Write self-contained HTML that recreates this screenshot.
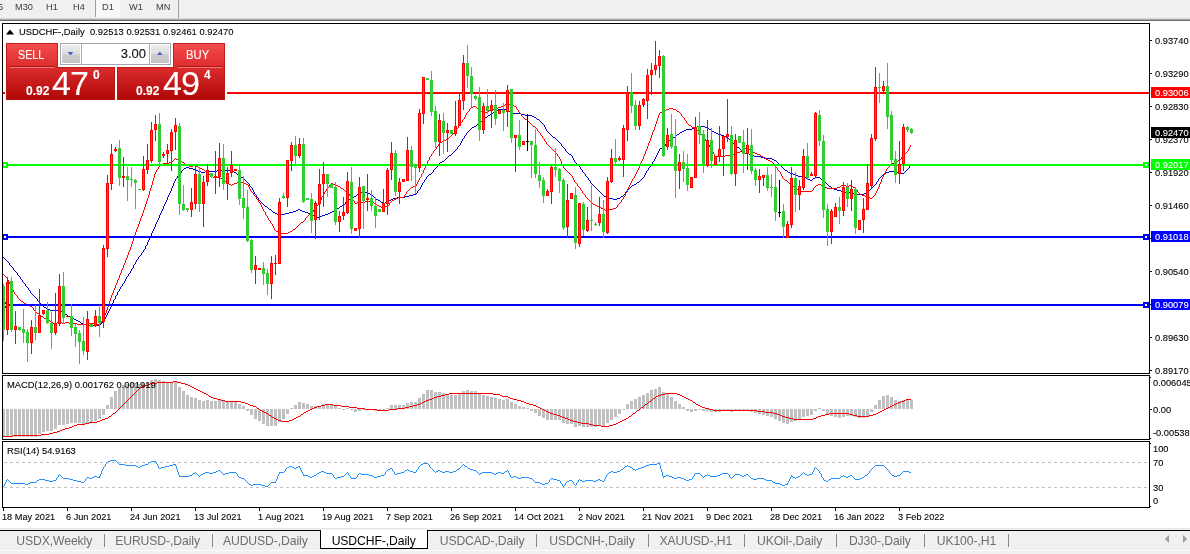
<!DOCTYPE html>
<html lang="en"><head><meta charset="utf-8"><title>USDCHF-,Daily</title>
<style>
html,body{margin:0;padding:0;background:#fff}
body{width:1190px;height:554px;overflow:hidden;position:relative;font-family:"Liberation Sans",sans-serif;color:#000}
.t,.ax{-webkit-text-stroke:0.1px currentColor}
#g{position:absolute;left:0;top:0}
.t{position:absolute;white-space:nowrap;line-height:1;font-size:9.9px;transform:scaleX(0.95);transform-origin:0 0}
.ax{position:absolute;white-space:nowrap;line-height:11px;height:11px;font-size:9.9px;left:1155px}
.ax span{display:inline-block;transform:translateY(-0.5px) scaleX(0.94);transform-origin:0 50%}
.box{left:1151px;width:39px;padding-left:4px;box-sizing:border-box;color:#fff}
.p{transform:none !important}
.tb{position:absolute;top:2px;font-size:9.2px;color:#3a3a3a;line-height:11px;white-space:nowrap}
.tab{position:absolute;top:534px;width:120px;text-align:center;font-size:12.2px;line-height:15px;color:#6d6d6d;white-space:nowrap;letter-spacing:-0.1px}
.sep{position:absolute;top:534px;width:1px;height:13px;background:#8a8a8a}
</style></head><body>
<svg id="g" width="1190" height="554" viewBox="0 0 1190 554" shape-rendering="crispEdges">
<defs><linearGradient id="rg" x1="0" y1="0" x2="0" y2="1"><stop offset="0" stop-color="#f64b4b"/><stop offset="0.45" stop-color="#d92a2a"/><stop offset="1" stop-color="#b30909"/></linearGradient><linearGradient id="bt" x1="0" y1="0" x2="0" y2="1"><stop offset="0" stop-color="#ececec"/><stop offset="0.5" stop-color="#dcdcdc"/><stop offset="0.5" stop-color="#cfcfcf"/><stop offset="1" stop-color="#c4c4c4"/></linearGradient></defs>
<rect x="0" y="0" width="1190" height="18" fill="#f0f0f0"/>
<rect x="0" y="18" width="1190" height="1" fill="#d9d9d9"/>
<rect x="0" y="19" width="1190" height="1" fill="#a6a6a6"/>
<rect x="0" y="20" width="1190" height="1" fill="#6f6f6f"/>
<rect x="96" y="0" width="24" height="17" fill="#f8f8f8"/>
<rect x="95" y="0" width="1" height="17" fill="#a0a0a0"/>
<rect x="178" y="0" width="1" height="18" fill="#a0a0a0"/>
<rect x="0" y="528" width="1190" height="1" fill="#e6e6e6"/>
<rect x="0" y="529" width="1190" height="1" fill="#f4f4f4"/>
<rect x="0" y="530" width="1190" height="1" fill="#000"/>
<rect x="0" y="531" width="1190" height="19" fill="#f0f0f0"/>
<rect x="0" y="550" width="1190" height="1" fill="#fdfdfd"/>
<rect x="0" y="551" width="1190" height="3" fill="#f0f0f0"/>
<rect x="320" y="530" width="108" height="19" fill="#000"/>
<rect x="321" y="530" width="106" height="18" fill="#fff"/>
<path d="M1165 539l4 -4v8z" fill="#9a9a9a" shape-rendering="auto"/><path d="M1187 539l-4 -4v8z" fill="#9a9a9a" shape-rendering="auto"/>
<path d="M2.5 23.5H1149.5V373.5H2.5zM2.5 375.5H1149.5V439.5H2.5zM2.5 441.5H1149.5V507.5H2.5z" stroke="#000" fill="none"/>
<path d="M1150 40.5h2M1150 73.5h2M1150 106.5h2M1150 139.5h2M1150 172.5h2M1150 205.5h2M1150 238.5h2M1150 271.5h2M1150 304.5h2M1150 337.5h2M1150 370.5h2M1150 377.5h1M1150 409.5h2M1150 438.5h1M1150 443.5h1M1150 506.5h1M3.5 508v3M67.5 508v3M131.5 508v3M195.5 508v3M259.5 508v3M323.5 508v3M387.5 508v3M451.5 508v3M515.5 508v3M579.5 508v3M643.5 508v3M707.5 508v3M771.5 508v3M835.5 508v3M899.5 508v3" stroke="#000" fill="none"/>
<path d="M4 462.5H1149M4 487.5H1149" stroke="#c0c0c0" stroke-dasharray="3 3" fill="none"/>
<clipPath id="cm"><rect x="3" y="24" width="1146" height="349"/></clipPath>
<g clip-path="url(#cm)">
<path d="M409 195h4v1h-4zM498 109h10v1h-10zM381 202h2v1h-2zM385 202h3v1h-3zM350 198h2v1h-2zM393 198h4v1h-4zM609 198h4v1h-4zM617 198h3v1h-3zM186 167h3v1h-3zM196 170h2v1h-2zM217 170h15v1h-15zM785 170h2v1h-2zM201 172h4v1h-4zM234 172h2v1h-2zM788 172h2v1h-2zM886 172h3v1h-3zM896 172h2v1h-2zM509 111h2v1h-2zM488 115h2v1h-2zM525 115h7v1h-7zM721 135h3v1h-3zM275 213h2v1h-2zM285 213h4v1h-4zM308 213h2v1h-2zM328 213h2v1h-2zM198 171h3v1h-3zM205 171h12v1h-12zM232 171h2v1h-2zM889 171h7v1h-7zM680 132h2v1h-2zM714 132h2v1h-2zM790 173h3v1h-3zM884 173h2v1h-2zM898 173h6v1h-6zM60 311h2v1h-2zM368 193h2v1h-2zM852 193h2v1h-2zM864 193h2v1h-2zM765 158h7v1h-7zM314 216h3v1h-3zM320 216h2v1h-2zM237 174h2v1h-2zM429 174h2v1h-2zM793 174h3v1h-3zM493 112h2v1h-2zM511 112h2v1h-2zM761 157h4v1h-4zM798 176h6v1h-6zM474 126h2v1h-2zM697 126h8v1h-8zM669 140h2v1h-2zM184 168h2v1h-2zM189 168h4v1h-4zM442 161h2v1h-2zM273 212h2v1h-2zM289 212h4v1h-4zM305 212h3v1h-3zM330 212h2v1h-2zM241 177h2v1h-2zM804 177h2v1h-2zM815 177h5v1h-5zM808 179h2v1h-2zM821 179h2v1h-2zM810 180h2v1h-2zM637 182h2v1h-2zM677 134h2v1h-2zM718 134h3v1h-3zM632 185h2v1h-2zM62 312h2v1h-2zM359 192h9v1h-9zM845 192h7v1h-7zM866 192h2v1h-2zM277 214h8v1h-8zM310 214h2v1h-2zM325 214h3v1h-3zM370 194h2v1h-2zM413 194h3v1h-3zM854 194h10v1h-10zM532 116h2v1h-2zM348 199h2v1h-2zM376 199h2v1h-2zM391 199h2v1h-2zM613 199h4v1h-4zM44 307h2v1h-2zM193 169h3v1h-3zM354 196h2v1h-2zM405 196h4v1h-4zM604 196h2v1h-2zM621 196h2v1h-2zM513 113h8v1h-8zM834 189h3v1h-3zM46 308h2v1h-2zM50 310h10v1h-10zM293 211h3v1h-3zM302 211h3v1h-3zM332 211h2v1h-2zM832 188h2v1h-2zM352 197h2v1h-2zM397 197h8v1h-8zM606 197h3v1h-3zM485 117h2v1h-2zM534 117h2v1h-2zM48 309h2v1h-2zM569 154h2v1h-2zM749 154h3v1h-3zM829 186h2v1h-2zM754 156h7v1h-7zM490 114h2v1h-2zM521 114h4v1h-4zM296 210h2v1h-2zM300 210h2v1h-2zM334 210h2v1h-2zM692 128h2v1h-2zM88 325h2v1h-2zM93 325h7v1h-7zM342 205h2v1h-2zM806 178h2v1h-2zM813 178h2v1h-2zM837 190h4v1h-4zM83 324h5v1h-5zM743 153h6v1h-6zM686 129h6v1h-6zM709 129h2v1h-2zM440 162h2v1h-2zM660 148h2v1h-2zM378 200h2v1h-2zM389 200h2v1h-2zM312 215h2v1h-2zM322 215h3v1h-3zM269 209h2v1h-2zM298 209h2v1h-2zM796 175h2v1h-2zM472 127h2v1h-2zM694 127h3v1h-3zM705 127h3v1h-3zM841 191h4v1h-4zM449 155h2v1h-2zM752 155h2v1h-2zM81 323h2v1h-2zM724 136h2v1h-2zM76 320h2v1h-2zM662 147h2v1h-2zM737 147h2v1h-2zM682 131h2v1h-2zM712 131h2v1h-2zM716 133h2v1h-2zM337 208h2v1h-2zM317 217h3v1h-3zM383 203h2v1h-2zM634 184h2v1h-2zM684 130h2v1h-2zM477 124h2v1h-2zM265 206h2v1h-2zM340 206h2v1h-2zM772 159h2v1h-2zM553 137h2v1h-2zM673 137h2v1h-2zM726 137h2v1h-2zM68 316h2v1h-2zM65 314h2v1h-2zM496 110h2v1h-2zM90 326h3v1h-3zM537 119h2v1h-2zM774 160h2v1h-2zM72 318h2v1h-2zM70 317h2v1h-2zM78 321h2v1h-2zM74 319h2v1h-2zM13 268h1v2h-1zM132 268h1v1h-1zM454 151h1v1h-1zM566 151h1v1h-1zM658 151h1v2h-1zM741 150h1v2h-1zM26 286h1v1h-1zM121 286h1v1h-1zM168 195h1v2h-1zM256 195h1v2h-1zM356 195h1v1h-1zM372 195h1v1h-1zM603 195h1v1h-1zM623 195h1v1h-1zM67 315h1v1h-1zM106 315h1v2h-1zM172 186h1v2h-1zM251 187h1v1h-1zM420 187h1v2h-1zM595 187h1v1h-1zM630 187h1v1h-1zM831 187h1v1h-1zM872 187h1v1h-1zM165 202h1v2h-1zM261 202h1v1h-1zM345 202h1v2h-1zM167 197h1v3h-1zM258 198h1v2h-1zM375 198h1v1h-1zM436 167h1v1h-1zM580 167h1v2h-1zM649 167h1v1h-1zM782 167h1v1h-1zM909 166h1v2h-1zM182 170h1v1h-1zM433 170h1v2h-1zM582 170h1v2h-1zM647 170h1v1h-1zM906 170h1v1h-1zM181 171h1v2h-1zM432 172h1v1h-1zM583 172h1v1h-1zM646 171h1v2h-1zM904 172h1v1h-1zM37 299h1v2h-1zM113 300h1v3h-1zM495 111h1v1h-1zM465 135h1v1h-1zM551 135h1v1h-1zM676 135h1v1h-1zM160 213h1v2h-1zM787 171h1v1h-1zM905 171h1v1h-1zM467 132h1v1h-1zM548 132h1v1h-1zM180 173h1v1h-1zM236 173h1v1h-1zM431 173h1v1h-1zM584 173h1v1h-1zM645 173h1v2h-1zM108 311h1v2h-1zM4 258h1v1h-1zM138 257h1v2h-1zM18 275h1v1h-1zM128 274h1v2h-1zM169 193h1v2h-1zM254 192h1v2h-1zM358 193h1v1h-1zM416 193h1v1h-1zM601 193h1v1h-1zM625 192h1v2h-1zM446 158h1v1h-1zM573 158h1v2h-1zM655 157h1v2h-1zM31 293h1v1h-1zM117 292h1v3h-1zM159 215h1v3h-1zM456 149h1v1h-1zM565 149h1v2h-1zM659 149h1v2h-1zM740 149h1v1h-1zM179 174h1v1h-1zM585 174h1v2h-1zM883 174h1v1h-1zM152 231h1v2h-1zM447 157h1v1h-1zM572 156h1v2h-1zM177 176h1v2h-1zM240 176h1v1h-1zM427 176h1v1h-1zM586 176h1v1h-1zM644 175h1v2h-1zM881 176h1v1h-1zM482 120h1v1h-1zM539 120h1v1h-1zM166 200h1v2h-1zM260 201h1v1h-1zM346 201h1v1h-1zM380 201h1v1h-1zM388 201h1v1h-1zM544 125h1v2h-1zM462 139h1v2h-1zM557 140h1v1h-1zM730 140h1v1h-1zM460 143h1v2h-1zM560 143h1v1h-1zM666 143h1v1h-1zM733 143h1v1h-1zM435 168h1v1h-1zM648 168h1v2h-1zM783 168h1v1h-1zM908 168h1v1h-1zM574 160h1v2h-1zM653 161h1v1h-1zM776 161h1v1h-1zM161 211h1v2h-1zM426 177h1v2h-1zM587 177h1v1h-1zM643 177h1v1h-1zM880 177h1v1h-1zM145 246h1v3h-1zM175 179h1v2h-1zM244 179h1v1h-1zM425 179h1v1h-1zM588 178h1v2h-1zM641 179h1v1h-1zM812 179h1v1h-1zM878 179h1v2h-1zM245 180h1v1h-1zM424 180h1v2h-1zM589 180h1v1h-1zM640 180h1v1h-1zM823 180h1v1h-1zM157 220h1v2h-1zM174 181h1v2h-1zM247 182h1v1h-1zM423 182h1v1h-1zM590 181h1v2h-1zM825 182h1v1h-1zM876 182h1v2h-1zM466 133h1v2h-1zM550 134h1v1h-1zM173 183h1v3h-1zM249 184h1v2h-1zM421 185h1v2h-1zM593 185h1v1h-1zM828 185h1v1h-1zM874 185h1v1h-1zM23 282h1v1h-1zM124 281h1v2h-1zM170 191h1v2h-1zM417 191h1v2h-1zM600 192h1v1h-1zM255 194h1v1h-1zM357 194h1v1h-1zM602 194h1v1h-1zM624 194h1v1h-1zM487 116h1v1h-1zM25 284h1v2h-1zM122 284h1v2h-1zM248 183h1v1h-1zM422 183h1v2h-1zM591 183h1v1h-1zM636 183h1v1h-1zM826 183h1v1h-1zM3 257h1v1h-1zM110 307h1v2h-1zM183 169h1v1h-1zM434 169h1v1h-1zM581 169h1v1h-1zM784 169h1v1h-1zM907 169h1v1h-1zM373 196h1v1h-1zM492 113h1v1h-1zM141 253h1v2h-1zM171 188h1v3h-1zM252 188h1v2h-1zM419 189h1v1h-1zM597 189h1v1h-1zM628 189h1v1h-1zM870 189h1v1h-1zM109 309h1v2h-1zM272 211h1v1h-1zM484 118h1v1h-1zM536 118h1v1h-1zM596 188h1v1h-1zM629 188h1v1h-1zM871 188h1v1h-1zM257 197h1v1h-1zM374 197h1v1h-1zM620 197h1v1h-1zM40 303h1v1h-1zM112 303h1v1h-1zM451 154h1v1h-1zM657 153h1v2h-1zM250 186h1v1h-1zM594 186h1v1h-1zM631 186h1v1h-1zM873 186h1v1h-1zM448 156h1v1h-1zM656 155h1v2h-1zM6 260h1v1h-1zM136 260h1v2h-1zM439 163h1v1h-1zM576 163h1v1h-1zM652 162h1v2h-1zM778 163h1v1h-1zM139 256h1v1h-1zM162 209h1v2h-1zM271 210h1v1h-1zM459 145h1v1h-1zM561 144h1v2h-1zM665 144h1v2h-1zM735 145h1v1h-1zM479 123h1v1h-1zM542 123h1v1h-1zM17 273h1v2h-1zM471 128h1v1h-1zM545 127h1v2h-1zM708 128h1v1h-1zM14 270h1v1h-1zM131 269h1v2h-1zM43 306h1v1h-1zM111 304h1v3h-1zM30 291h1v2h-1zM28 288h1v2h-1zM120 287h1v2h-1zM164 204h1v2h-1zM264 205h1v1h-1zM176 178h1v1h-1zM243 178h1v1h-1zM642 178h1v1h-1zM820 178h1v1h-1zM879 178h1v1h-1zM253 190h1v2h-1zM418 190h1v1h-1zM598 190h1v1h-1zM627 190h1v1h-1zM869 190h1v1h-1zM463 138h1v1h-1zM555 138h1v1h-1zM672 138h1v1h-1zM728 138h1v1h-1zM100 324h1v1h-1zM9 263h1v2h-1zM135 262h1v2h-1zM452 153h1v1h-1zM568 153h1v1h-1zM458 146h1v1h-1zM562 146h1v1h-1zM664 146h1v1h-1zM736 146h1v1h-1zM461 141h1v2h-1zM559 142h1v1h-1zM667 142h1v1h-1zM732 142h1v1h-1zM22 280h1v2h-1zM470 129h1v1h-1zM546 129h1v2h-1zM33 295h1v1h-1zM116 295h1v1h-1zM151 233h1v3h-1zM575 162h1v1h-1zM777 162h1v1h-1zM457 147h1v2h-1zM564 148h1v1h-1zM739 148h1v1h-1zM35 297h1v1h-1zM115 296h1v3h-1zM64 313h1v1h-1zM107 313h1v2h-1zM259 200h1v1h-1zM347 200h1v1h-1zM336 209h1v1h-1zM36 298h1v1h-1zM144 249h1v1h-1zM178 175h1v1h-1zM239 175h1v1h-1zM428 175h1v1h-1zM882 175h1v1h-1zM156 222h1v2h-1zM599 191h1v1h-1zM626 191h1v1h-1zM868 191h1v1h-1zM80 322h1v1h-1zM102 322h1v1h-1zM571 155h1v1h-1zM101 323h1v1h-1zM24 283h1v1h-1zM123 283h1v1h-1zM437 165h1v2h-1zM578 165h1v1h-1zM650 165h1v2h-1zM780 165h1v1h-1zM910 165h1v1h-1zM464 136h1v2h-1zM552 136h1v1h-1zM675 136h1v1h-1zM263 204h1v1h-1zM344 204h1v1h-1zM104 319h1v2h-1zM556 139h1v1h-1zM671 139h1v1h-1zM729 139h1v1h-1zM119 289h1v2h-1zM563 147h1v1h-1zM42 305h1v1h-1zM468 131h1v1h-1zM547 131h1v1h-1zM549 133h1v1h-1zM679 133h1v1h-1zM8 262h1v1h-1zM19 276h1v1h-1zM127 276h1v1h-1zM163 206h1v3h-1zM268 208h1v1h-1zM262 203h1v1h-1zM592 184h1v1h-1zM827 184h1v1h-1zM875 184h1v1h-1zM469 130h1v1h-1zM711 130h1v1h-1zM543 124h1v1h-1zM445 159h1v1h-1zM654 159h1v2h-1zM481 121h1v1h-1zM540 121h1v1h-1zM5 259h1v1h-1zM137 259h1v1h-1zM29 290h1v1h-1zM158 218h1v2h-1zM41 304h1v1h-1zM147 242h1v3h-1zM39 302h1v1h-1zM267 207h1v1h-1zM339 207h1v1h-1zM480 122h1v1h-1zM541 122h1v1h-1zM150 236h1v2h-1zM438 164h1v1h-1zM577 164h1v1h-1zM651 164h1v1h-1zM779 164h1v1h-1zM246 181h1v1h-1zM639 181h1v1h-1zM824 181h1v1h-1zM877 181h1v1h-1zM734 144h1v1h-1zM455 150h1v1h-1zM155 224h1v3h-1zM453 152h1v1h-1zM567 152h1v1h-1zM742 152h1v1h-1zM508 110h1v1h-1zM27 287h1v1h-1zM143 250h1v2h-1zM16 272h1v1h-1zM130 271h1v2h-1zM483 119h1v1h-1zM38 301h1v1h-1zM444 160h1v1h-1zM20 277h1v2h-1zM126 277h1v2h-1zM134 264h1v1h-1zM118 291h1v1h-1zM149 238h1v2h-1zM114 299h1v1h-1zM105 317h1v2h-1zM15 271h1v1h-1zM154 227h1v2h-1zM558 141h1v1h-1zM668 141h1v1h-1zM731 141h1v1h-1zM476 125h1v1h-1zM579 166h1v1h-1zM781 166h1v1h-1zM12 267h1v1h-1zM133 265h1v3h-1zM7 261h1v1h-1zM103 321h1v1h-1zM11 266h1v1h-1zM148 240h1v2h-1zM140 255h1v1h-1zM129 273h1v1h-1zM34 296h1v1h-1zM32 294h1v1h-1zM10 265h1v1h-1zM21 279h1v1h-1zM125 279h1v2h-1zM153 229h1v2h-1zM146 245h1v1h-1zM142 252h1v1h-1z" fill="#0000cd"/>
<path d="M715 156h10v1h-10zM761 156h2v1h-2zM229 184h2v1h-2zM232 184h2v1h-2zM246 184h2v1h-2zM333 184h3v1h-3zM818 184h3v1h-3zM163 163h6v1h-6zM892 163h2v1h-2zM491 109h5v1h-5zM666 109h3v1h-3zM673 109h3v1h-3zM234 183h3v1h-3zM244 183h2v1h-2zM331 183h2v1h-2zM789 183h2v1h-2zM744 148h2v1h-2zM77 324h12v1h-12zM97 324h3v1h-3zM377 205h2v1h-2zM595 205h2v1h-2zM176 159h2v1h-2zM766 159h2v1h-2zM237 182h7v1h-7zM694 128h2v1h-2zM734 153h3v1h-3zM755 153h2v1h-2zM396 198h2v1h-2zM870 198h2v1h-2zM222 179h2v1h-2zM593 204h2v1h-2zM860 194h2v1h-2zM737 152h3v1h-3zM753 152h2v1h-2zM411 187h2v1h-2zM825 187h2v1h-2zM837 187h3v1h-3zM853 187h2v1h-2zM796 189h2v1h-2zM189 166h4v1h-4zM196 166h2v1h-2zM862 195h3v1h-3zM379 206h2v1h-2zM385 206h3v1h-3zM597 206h3v1h-3zM336 185h2v1h-2zM816 185h2v1h-2zM821 185h3v1h-3zM841 185h2v1h-2zM844 185h2v1h-2zM849 185h3v1h-3zM30 306h2v1h-2zM865 196h3v1h-3zM482 112h6v1h-6zM660 112h2v1h-2zM180 161h2v1h-2zM770 161h2v1h-2zM896 161h2v1h-2zM394 199h2v1h-2zM605 210h4v1h-4zM345 191h2v1h-2zM801 191h11v1h-11zM281 233h7v1h-7zM505 104h2v1h-2zM509 104h3v1h-3zM200 168h2v1h-2zM398 197h6v1h-6zM868 197h2v1h-2zM725 155h7v1h-7zM213 177h7v1h-7zM357 202h8v1h-8zM372 202h2v1h-2zM211 176h2v1h-2zM220 178h2v1h-2zM341 188h2v1h-2zM827 188h10v1h-10zM489 110h2v1h-2zM664 110h2v1h-2zM689 125h2v1h-2zM601 208h2v1h-2zM613 208h3v1h-3zM338 186h2v1h-2zM413 186h3v1h-3zM846 186h3v1h-3zM309 214h2v1h-2zM692 127h2v1h-2zM276 231h2v1h-2zM290 231h2v1h-2zM24 303h2v1h-2zM471 107h2v1h-2zM498 107h3v1h-3zM496 108h2v1h-2zM669 108h4v1h-4zM57 322h2v1h-2zM60 322h2v1h-2zM65 322h4v1h-4zM198 167h2v1h-2zM278 232h3v1h-3zM288 232h2v1h-2zM161 164h2v1h-2zM185 164h2v1h-2zM53 323h2v1h-2zM62 323h3v1h-3zM69 323h8v1h-8zM89 323h8v1h-8zM293 229h2v1h-2zM365 201h7v1h-7zM355 203h2v1h-2zM374 203h2v1h-2zM785 180h2v1h-2zM28 305h2v1h-2zM21 301h2v1h-2zM732 154h2v1h-2zM757 154h3v1h-3zM746 147h2v1h-2zM178 160h2v1h-2zM768 160h2v1h-2zM898 160h2v1h-2zM202 169h2v1h-2zM392 200h2v1h-2zM381 207h4v1h-4zM225 181h2v1h-2zM697 130h2v1h-2zM440 142h2v1h-2zM446 139h2v1h-2zM749 149h2v1h-2zM798 190h3v1h-3zM473 106h3v1h-3zM501 106h3v1h-3zM514 106h2v1h-2zM741 150h2v1h-2zM187 165h2v1h-2zM193 165h3v1h-3zM169 162h3v1h-3zM182 162h2v1h-2zM894 162h2v1h-2zM41 316h2v1h-2zM525 119h2v1h-2zM301 222h2v1h-2zM442 141h2v1h-2zM205 171h2v1h-2zM603 209h2v1h-2zM609 209h4v1h-4zM512 105h2v1h-2zM507 103h2v1h-2zM46 319h2v1h-2zM48 320h2v1h-2zM480 111h2v1h-2zM662 111h2v1h-2zM677 111h2v1h-2zM50 321h2v1h-2zM533 126h2v1h-2zM764 158h2v1h-2zM44 318h2v1h-2zM26 304h2v1h-2zM444 140h2v1h-2zM37 313h2v1h-2zM430 156h1v1h-1zM558 156h1v1h-1zM643 156h1v3h-1zM902 156h1v1h-1zM152 181h1v4h-1zM330 184h1v1h-1zM416 184h1v2h-1zM577 184h1v2h-1zM630 183h1v2h-1zM791 184h1v1h-1zM843 184h1v1h-1zM879 184h1v3h-1zM453 133h1v1h-1zM540 133h1v2h-1zM652 132h1v3h-1zM700 132h1v2h-1zM184 163h1v1h-1zM427 161h1v3h-1zM561 161h1v3h-1zM640 163h1v2h-1zM773 163h1v2h-1zM469 109h1v2h-1zM478 109h1v1h-1zM517 109h1v1h-1zM228 183h1v1h-1zM417 182h1v2h-1zM576 183h1v1h-1zM880 182h1v2h-1zM436 147h1v2h-1zM551 148h1v1h-1zM647 146h1v3h-1zM710 147h1v2h-1zM748 148h1v1h-1zM909 147h1v2h-1zM55 324h1v1h-1zM13 290h1v2h-1zM113 290h1v3h-1zM145 204h1v3h-1zM261 205h1v2h-1zM317 205h1v1h-1zM388 205h1v1h-1zM617 205h1v2h-1zM174 159h1v1h-1zM429 157h1v3h-1zM560 159h1v2h-1zM642 159h1v2h-1zM900 159h1v1h-1zM227 182h1v1h-1zM575 182h1v1h-1zM631 181h1v2h-1zM788 182h1v1h-1zM457 128h1v1h-1zM536 128h1v1h-1zM654 127h1v3h-1zM432 153h1v1h-1zM556 153h1v1h-1zM645 151h1v3h-1zM713 152h1v2h-1zM905 153h1v1h-1zM147 198h1v3h-1zM256 197h1v2h-1zM321 197h1v3h-1zM352 198h1v2h-1zM587 198h1v1h-1zM623 197h1v2h-1zM153 178h1v3h-1zM419 178h1v2h-1zM573 178h1v2h-1zM632 179h1v2h-1zM784 179h1v1h-1zM881 179h1v3h-1zM260 203h1v2h-1zM318 203h1v2h-1zM376 204h1v1h-1zM389 203h1v2h-1zM618 204h1v1h-1zM149 191h1v4h-1zM253 193h1v2h-1zM323 194h1v2h-1zM349 194h1v2h-1zM405 194h1v1h-1zM584 194h1v1h-1zM625 193h1v3h-1zM875 193h1v2h-1zM433 151h1v2h-1zM555 152h1v1h-1zM906 152h1v1h-1zM456 129h1v2h-1zM537 129h1v2h-1zM696 129h1v1h-1zM151 185h1v3h-1zM249 187h1v2h-1zM328 187h1v1h-1zM340 187h1v1h-1zM579 187h1v1h-1zM628 187h1v2h-1zM794 187h1v1h-1zM814 187h1v1h-1zM878 187h1v2h-1zM150 188h1v3h-1zM250 189h1v2h-1zM326 189h1v2h-1zM343 189h1v1h-1zM409 189h1v1h-1zM580 188h1v2h-1zM627 189h1v3h-1zM813 188h1v2h-1zM856 189h1v1h-1zM877 189h1v2h-1zM122 268h1v2h-1zM324 192h1v2h-1zM348 193h1v1h-1zM406 192h1v2h-1zM583 193h1v1h-1zM859 193h1v1h-1zM40 315h1v1h-1zM104 315h1v3h-1zM159 166h1v1h-1zM425 166h1v2h-1zM563 166h1v2h-1zM639 165h1v3h-1zM775 166h1v1h-1zM889 166h1v1h-1zM148 195h1v3h-1zM254 195h1v1h-1zM404 195h1v2h-1zM585 195h1v2h-1zM874 195h1v1h-1zM155 172h1v2h-1zM208 173h1v1h-1zM422 173h1v1h-1zM569 173h1v1h-1zM636 172h1v2h-1zM780 172h1v2h-1zM884 173h1v2h-1zM316 206h1v2h-1zM464 117h1v2h-1zM523 117h1v1h-1zM658 115h1v3h-1zM683 117h1v1h-1zM154 174h1v4h-1zM210 175h1v1h-1zM421 174h1v3h-1zM571 175h1v1h-1zM635 174h1v2h-1zM781 174h1v2h-1zM883 175h1v2h-1zM231 185h1v1h-1zM248 185h1v2h-1zM329 185h1v2h-1zM629 185h1v2h-1zM792 185h1v1h-1zM108 304h1v3h-1zM255 196h1v1h-1zM322 196h1v1h-1zM350 196h1v1h-1zM624 196h1v1h-1zM873 196h1v1h-1zM143 210h1v3h-1zM265 212h1v3h-1zM312 212h1v1h-1zM467 112h1v1h-1zM519 112h1v1h-1zM679 112h1v1h-1zM156 170h1v2h-1zM204 170h1v1h-1zM423 170h1v3h-1zM566 170h1v1h-1zM637 170h1v2h-1zM778 170h1v1h-1zM886 169h1v2h-1zM559 157h1v2h-1zM763 157h1v1h-1zM901 157h1v2h-1zM172 161h1v1h-1zM641 161h1v2h-1zM465 115h1v2h-1zM521 114h1v2h-1zM681 114h1v2h-1zM257 199h1v1h-1zM588 199h1v1h-1zM622 199h1v1h-1zM263 209h1v2h-1zM313 210h1v2h-1zM121 270h1v3h-1zM251 191h1v1h-1zM325 191h1v1h-1zM407 191h1v1h-1zM582 191h1v2h-1zM857 190h1v2h-1zM876 191h1v2h-1zM135 232h1v3h-1zM158 167h1v2h-1zM424 168h1v2h-1zM564 168h1v1h-1zM638 168h1v2h-1zM777 168h1v2h-1zM887 168h1v1h-1zM351 197h1v1h-1zM586 197h1v1h-1zM872 197h1v1h-1zM140 218h1v3h-1zM268 218h1v2h-1zM305 218h1v2h-1zM125 260h1v3h-1zM431 154h1v2h-1zM557 154h1v2h-1zM644 154h1v2h-1zM714 154h1v2h-1zM760 155h1v1h-1zM903 155h1v1h-1zM420 177h1v1h-1zM572 176h1v2h-1zM634 176h1v2h-1zM782 176h1v2h-1zM882 177h1v2h-1zM146 201h1v3h-1zM259 202h1v1h-1zM319 201h1v2h-1zM354 201h1v2h-1zM390 202h1v1h-1zM591 202h1v1h-1zM620 202h1v1h-1zM209 174h1v1h-1zM570 174h1v1h-1zM633 178h1v1h-1zM783 178h1v1h-1zM138 224h1v3h-1zM273 226h1v2h-1zM297 226h1v1h-1zM327 188h1v1h-1zM410 188h1v1h-1zM795 188h1v1h-1zM855 188h1v1h-1zM479 110h1v1h-1zM518 110h1v2h-1zM676 110h1v1h-1zM459 125h1v1h-1zM532 125h1v1h-1zM655 124h1v3h-1zM144 207h1v3h-1zM262 207h1v2h-1zM315 208h1v1h-1zM554 151h1v1h-1zM712 150h1v2h-1zM740 151h1v1h-1zM752 151h1v1h-1zM907 151h1v1h-1zM578 186h1v1h-1zM793 186h1v1h-1zM815 186h1v1h-1zM824 186h1v1h-1zM840 186h1v1h-1zM852 186h1v1h-1zM142 213h1v3h-1zM39 314h1v1h-1zM105 313h1v2h-1zM460 123h1v2h-1zM531 124h1v1h-1zM688 124h1v1h-1zM458 126h1v2h-1zM535 127h1v1h-1zM136 229h1v3h-1zM109 301h1v3h-1zM455 131h1v1h-1zM538 131h1v1h-1zM653 130h1v2h-1zM699 131h1v1h-1zM476 107h1v1h-1zM516 107h1v2h-1zM470 108h1v1h-1zM477 108h1v1h-1zM52 322h1v1h-1zM101 321h1v2h-1zM207 172h1v1h-1zM568 172h1v1h-1zM885 171h1v2h-1zM23 302h1v1h-1zM776 167h1v1h-1zM888 167h1v1h-1zM14 292h1v2h-1zM112 293h1v2h-1zM426 164h1v2h-1zM562 164h1v2h-1zM891 164h1v1h-1zM56 323h1v1h-1zM100 323h1v1h-1zM437 146h1v1h-1zM549 146h1v1h-1zM709 145h1v2h-1zM910 145h1v2h-1zM15 294h1v1h-1zM274 228h1v2h-1zM258 200h1v2h-1zM391 201h1v1h-1zM590 201h1v1h-1zM621 200h1v2h-1zM592 203h1v1h-1zM619 203h1v1h-1zM224 180h1v1h-1zM418 180h1v2h-1zM574 180h1v2h-1zM904 154h1v1h-1zM43 317h1v1h-1zM550 147h1v1h-1zM173 160h1v1h-1zM428 160h1v1h-1zM157 169h1v1h-1zM565 169h1v1h-1zM320 200h1v1h-1zM353 200h1v1h-1zM589 200h1v1h-1zM600 207h1v1h-1zM616 207h1v1h-1zM787 181h1v1h-1zM466 113h1v2h-1zM520 113h1v1h-1zM659 113h1v2h-1zM680 113h1v1h-1zM462 120h1v2h-1zM527 120h1v1h-1zM657 118h1v3h-1zM685 120h1v1h-1zM35 311h1v1h-1zM106 310h1v3h-1zM546 142h1v2h-1zM649 141h1v2h-1zM707 142h1v1h-1zM36 312h1v1h-1zM252 192h1v1h-1zM347 192h1v1h-1zM626 192h1v1h-1zM858 192h1v1h-1zM124 263h1v2h-1zM544 139h1v2h-1zM650 138h1v3h-1zM705 139h1v2h-1zM435 149h1v1h-1zM552 149h1v1h-1zM646 149h1v2h-1zM711 149h1v1h-1zM743 149h1v1h-1zM908 149h1v2h-1zM344 190h1v1h-1zM408 190h1v1h-1zM581 190h1v1h-1zM812 190h1v1h-1zM434 150h1v1h-1zM553 150h1v1h-1zM751 150h1v1h-1zM139 221h1v3h-1zM271 223h1v1h-1zM300 223h1v1h-1zM160 165h1v1h-1zM774 165h1v1h-1zM890 165h1v1h-1zM3 274h1v1h-1zM120 273h1v2h-1zM141 216h1v2h-1zM267 216h1v2h-1zM306 217h1v1h-1zM133 238h1v3h-1zM772 162h1v1h-1zM137 227h1v2h-1zM295 228h1v1h-1zM269 220h1v1h-1zM304 220h1v1h-1zM463 119h1v1h-1zM684 118h1v2h-1zM132 241h1v3h-1zM33 308h1v2h-1zM107 307h1v3h-1zM450 136h1v1h-1zM542 136h1v2h-1zM651 135h1v3h-1zM702 135h1v2h-1zM454 132h1v1h-1zM539 132h1v1h-1zM270 221h1v2h-1zM545 141h1v1h-1zM706 141h1v1h-1zM17 296h1v2h-1zM111 295h1v3h-1zM530 123h1v1h-1zM656 121h1v3h-1zM687 123h1v1h-1zM567 171h1v1h-1zM779 171h1v1h-1zM307 216h1v1h-1zM449 137h1v1h-1zM703 137h1v1h-1zM314 209h1v1h-1zM504 105h1v1h-1zM522 116h1v1h-1zM682 116h1v1h-1zM6 277h1v1h-1zM119 275h1v3h-1zM123 265h1v3h-1zM461 122h1v1h-1zM529 122h1v1h-1zM686 121h1v2h-1zM296 227h1v1h-1zM128 252h1v3h-1zM103 318h1v2h-1zM452 134h1v1h-1zM701 134h1v1h-1zM266 215h1v1h-1zM308 215h1v1h-1zM439 143h1v1h-1zM648 143h1v3h-1zM708 143h1v2h-1zM32 307h1v1h-1zM131 244h1v3h-1zM311 213h1v1h-1zM16 295h1v1h-1zM102 320h1v1h-1zM468 111h1v1h-1zM488 111h1v1h-1zM127 255h1v3h-1zM59 321h1v1h-1zM691 126h1v1h-1zM175 158h1v1h-1zM34 310h1v1h-1zM528 121h1v1h-1zM5 276h1v1h-1zM275 230h1v1h-1zM292 230h1v1h-1zM12 288h1v2h-1zM114 288h1v2h-1zM451 135h1v1h-1zM541 135h1v1h-1zM7 278h1v2h-1zM118 278h1v2h-1zM18 298h1v1h-1zM110 298h1v3h-1zM303 221h1v1h-1zM130 247h1v3h-1zM438 144h1v2h-1zM548 145h1v1h-1zM134 235h1v3h-1zM272 224h1v2h-1zM299 224h1v1h-1zM4 275h1v1h-1zM298 225h1v1h-1zM448 138h1v1h-1zM543 138h1v1h-1zM704 138h1v1h-1zM11 286h1v2h-1zM115 285h1v3h-1zM126 258h1v2h-1zM264 211h1v1h-1zM8 280h1v2h-1zM117 280h1v3h-1zM9 282h1v2h-1zM524 118h1v1h-1zM10 284h1v2h-1zM129 250h1v2h-1zM547 144h1v1h-1zM116 283h1v2h-1zM19 299h1v1h-1zM20 300h1v1h-1z" fill="#ff0000"/>
<rect x="3" y="92" width="1146" height="2" fill="#ff0000"/>
<rect x="3" y="164" width="1146" height="2" fill="#00ff00"/>
<rect x="3" y="236" width="1146" height="2" fill="#0000ff"/>
<rect x="3" y="304" width="1146" height="2" fill="#0000ff"/>
<rect x="2" y="162" width="6" height="6" fill="#00ff00"/><rect x="4" y="164" width="2" height="2" fill="#fff"/>
<rect x="1143" y="162" width="6" height="6" fill="#00ff00"/><rect x="1145" y="164" width="2" height="2" fill="#fff"/>
<rect x="2" y="234" width="6" height="6" fill="#0000ff"/><rect x="4" y="236" width="2" height="2" fill="#fff"/>
<rect x="1143" y="234" width="6" height="6" fill="#0000ff"/><rect x="1145" y="236" width="2" height="2" fill="#fff"/>
<rect x="2" y="302" width="6" height="6" fill="#0000ff"/><rect x="4" y="304" width="2" height="2" fill="#fff"/>
<rect x="1143" y="302" width="6" height="6" fill="#0000ff"/><rect x="1145" y="304" width="2" height="2" fill="#fff"/>
<path d="M3.5 284V341M11.5 277V332M19.5 327V331M23.5 309V343M27.5 329V362M35.5 305V340M47.5 302V324M51.5 312V349M63.5 272V324M71.5 304V336M75.5 324V347M79.5 330V364M83.5 317V355M91.5 324V327M99.5 305V337M119.5 140V186M127.5 167V201M131.5 167V187M135.5 179V209M139.5 189V190M159.5 113V164M179.5 123V215M183.5 185V211M187.5 208V212M199.5 167V212M211.5 173V178M223.5 144V190M239.5 165V205M243.5 176V219M247.5 190V242M251.5 239V273M263.5 262V285M267.5 269V295M283.5 193V199M295.5 136V164M303.5 138V203M307.5 198V200M311.5 193V233M327.5 174V197M331.5 184V188M335.5 182V225M351.5 167V234M363.5 186V229M371.5 190V211M375.5 197V228M379.5 209V212M395.5 150V196M411.5 146V181M415.5 164V194M427.5 78V80M431.5 71V116M435.5 106V148M443.5 113V154M451.5 130V134M467.5 45V88M471.5 67V107M475.5 95V100M479.5 87V141M487.5 89V114M495.5 90V125M503.5 103V131M511.5 89V143M519.5 120V150M531.5 141V178M535.5 129V178M539.5 162V188M543.5 177V203M555.5 148V177M559.5 168V193M563.5 178V230M575.5 187V249M583.5 202V236M591.5 185V231M595.5 222V226M603.5 200V238M615.5 139V164M631.5 73V113M635.5 100V130M663.5 55V157M671.5 114V149M675.5 119V198M683.5 151V182M687.5 154V191M699.5 112V144M703.5 130V173M711.5 128V168M731.5 126V175M739.5 136V143M743.5 130V173M751.5 129V174M755.5 168V186M767.5 167V191M771.5 174V197M775.5 165V221M783.5 204V238M795.5 172V212M807.5 143V180M819.5 110V146M823.5 135V218M827.5 204V246M839.5 197V224M847.5 183V207M855.5 187V234M879.5 73V103M887.5 63V129M891.5 111V164M895.5 151V183M907.5 126V132M911.5 128V134" stroke="#32cd32" stroke-width="1" fill="none"/>
<path d="M2 286h3v44h-3zM10 281h3v49h-3zM18 327h3v3h-3zM22 329h3v4h-3zM26 332h3v11h-3zM34 327h3v6h-3zM46 310h3v13h-3zM50 323h3v10h-3zM62 286h3v32h-3zM70 316h3v12h-3zM74 327h3v7h-3zM78 333h3v9h-3zM82 341h3v10h-3zM90 324h3v3h-3zM98 316h3v7h-3zM118 148h3v30h-3zM126 176h3v4h-3zM130 179h3v1h-3zM134 180h3v3h-3zM138 189h3v1h-3zM158 124h3v38h-3zM178 126h3v78h-3zM182 204h3v6h-3zM186 208h3v2h-3zM198 174h3v30h-3zM210 173h3v4h-3zM222 158h3v26h-3zM238 170h3v29h-3zM242 198h3v10h-3zM246 207h3v34h-3zM250 240h3v30h-3zM262 268h3v6h-3zM266 273h3v11h-3zM282 196h3v2h-3zM294 145h3v11h-3zM302 144h3v58h-3zM306 198h3v2h-3zM310 199h3v22h-3zM326 174h3v10h-3zM330 184h3v4h-3zM334 187h3v35h-3zM350 182h3v47h-3zM362 186h3v15h-3zM370 198h3v8h-3zM374 206h3v10h-3zM378 209h3v3h-3zM394 153h3v39h-3zM410 150h3v17h-3zM414 165h3v3h-3zM426 78h3v2h-3zM430 80h3v32h-3zM434 111h3v31h-3zM442 121h3v12h-3zM450 130h3v4h-3zM466 63h3v13h-3zM470 76h3v18h-3zM474 96h3v3h-3zM478 97h3v33h-3zM486 106h3v5h-3zM494 105h3v14h-3zM502 110h3v3h-3zM510 89h3v49h-3zM518 135h3v12h-3zM530 141h3v4h-3zM534 145h3v29h-3zM538 175h3v6h-3zM542 180h3v16h-3zM554 167h3v3h-3zM558 169h3v12h-3zM562 180h3v48h-3zM574 195h3v48h-3zM582 204h3v26h-3zM590 220h3v1h-3zM594 224h3v1h-3zM602 214h3v18h-3zM614 158h3v4h-3zM630 92h3v14h-3zM634 105h3v21h-3zM662 56h3v100h-3zM670 134h3v13h-3zM674 146h3v25h-3zM682 162h3v7h-3zM686 168h3v17h-3zM698 126h3v9h-3zM702 134h3v31h-3zM710 140h3v21h-3zM730 135h3v39h-3zM738 136h3v7h-3zM742 142h3v12h-3zM750 145h3v26h-3zM754 170h3v10h-3zM766 175h3v13h-3zM770 187h3v1h-3zM774 187h3v25h-3zM782 211h3v16h-3zM794 178h3v17h-3zM806 156h3v22h-3zM818 115h3v26h-3zM822 141h3v69h-3zM826 209h3v23h-3zM838 207h3v4h-3zM846 187h3v12h-3zM854 189h3v39h-3zM878 87h3v1h-3zM886 86h3v31h-3zM890 115h3v45h-3zM894 159h3v16h-3zM906 127h3v3h-3zM910 129h3v4h-3z" fill="#32cd32"/>
<path d="M7.5 277V335M15.5 311V344M31.5 320V354M39.5 289V333M43.5 310V315M55.5 293V335M59.5 274V326M67.5 316V317M87.5 311V360M95.5 310V327M103.5 245V328M107.5 175V257M111.5 144V190M115.5 147V152M123.5 157V187M143.5 156V191M147.5 144V174M151.5 122V163M155.5 115V141M163.5 152V158M167.5 144V163M171.5 129V171M175.5 118V150M191.5 188V217M195.5 166V209M203.5 176V227M207.5 164V186M215.5 151V194M219.5 143V187M227.5 167V200M231.5 151V177M235.5 169V171M255.5 256V284M259.5 268V270M271.5 256V299M275.5 255V275M279.5 198V264M287.5 160V207M291.5 142V171M299.5 138V158M315.5 201V239M319.5 169V220M323.5 162V207M339.5 211V232M343.5 197V220M347.5 172V214M355.5 228V231M359.5 177V238M367.5 174V211M383.5 189V212M387.5 168V215M391.5 142V180M399.5 178V204M403.5 179V182M407.5 137V181M419.5 109V172M423.5 77V124M439.5 114V156M447.5 123V152M455.5 101V136M459.5 94V126M463.5 55V110M483.5 103V134M491.5 100V128M499.5 110V114M507.5 85V127M515.5 135V172M523.5 141V145M547.5 189V196M551.5 165V204M567.5 184V238M571.5 193V199M579.5 203V247M587.5 207V232M599.5 197V226M607.5 177V234M611.5 149V183M619.5 156V161M623.5 125V177M627.5 86V141M639.5 101V130M643.5 98V107M647.5 69V119M651.5 63V95M655.5 41V75M659.5 50V78M667.5 128V150M679.5 154V189M691.5 177V188M695.5 117V178M707.5 120V167M715.5 156V165M719.5 126V162M723.5 136V176M727.5 99V142M735.5 134V186M747.5 128V170M759.5 169V193M763.5 175V186M787.5 221V238M791.5 167V228M799.5 180V210M803.5 149V190M811.5 172V176M815.5 112V177M831.5 209V244M835.5 203V217M843.5 182V216M851.5 180V211M859.5 220V230M863.5 198V233M867.5 164V210M871.5 134V188M875.5 67V141M883.5 81V92M899.5 141V184M903.5 124V171" stroke="#ff0000" stroke-width="1" fill="none"/>
<path d="M6 282h3v48h-3zM14 326h3v4h-3zM30 327h3v16h-3zM38 315h3v18h-3zM42 310h3v4h-3zM54 323h3v10h-3zM58 286h3v38h-3zM66 316h3v1h-3zM86 319h3v33h-3zM94 316h3v10h-3zM102 248h3v74h-3zM106 183h3v66h-3zM110 154h3v30h-3zM114 149h3v2h-3zM122 176h3v2h-3zM142 169h3v21h-3zM146 160h3v10h-3zM150 130h3v31h-3zM154 124h3v6h-3zM162 154h3v2h-3zM166 150h3v4h-3zM170 132h3v19h-3zM174 125h3v7h-3zM190 202h3v8h-3zM194 174h3v30h-3zM202 182h3v22h-3zM206 170h3v12h-3zM214 176h3v1h-3zM218 158h3v19h-3zM226 173h3v11h-3zM230 165h3v8h-3zM234 169h3v2h-3zM254 265h3v5h-3zM258 268h3v2h-3zM270 263h3v21h-3zM274 263h3v1h-3zM278 202h3v62h-3zM286 160h3v38h-3zM290 145h3v16h-3zM298 144h3v12h-3zM314 203h3v17h-3zM318 184h3v20h-3zM322 174h3v10h-3zM338 216h3v6h-3zM342 212h3v4h-3zM346 181h3v32h-3zM354 228h3v3h-3zM358 187h3v42h-3zM366 198h3v2h-3zM382 203h3v9h-3zM386 170h3v34h-3zM390 153h3v17h-3zM398 182h3v10h-3zM402 179h3v3h-3zM406 150h3v31h-3zM418 113h3v55h-3zM422 77h3v37h-3zM438 120h3v22h-3zM446 130h3v3h-3zM454 126h3v8h-3zM458 100h3v26h-3zM462 63h3v38h-3zM482 106h3v24h-3zM490 105h3v6h-3zM498 110h3v4h-3zM506 90h3v22h-3zM514 135h3v3h-3zM522 141h3v4h-3zM546 191h3v5h-3zM550 167h3v25h-3zM566 200h3v27h-3zM570 193h3v6h-3zM578 203h3v41h-3zM586 220h3v11h-3zM598 214h3v9h-3zM606 181h3v52h-3zM610 158h3v24h-3zM618 158h3v2h-3zM622 128h3v32h-3zM626 92h3v38h-3zM638 105h3v21h-3zM642 99h3v6h-3zM646 75h3v26h-3zM650 70h3v5h-3zM654 65h3v5h-3zM658 56h3v10h-3zM666 135h3v12h-3zM678 162h3v9h-3zM690 177h3v11h-3zM694 127h3v51h-3zM706 140h3v26h-3zM714 156h3v9h-3zM718 149h3v8h-3zM722 136h3v13h-3zM726 134h3v3h-3zM734 140h3v34h-3zM746 145h3v9h-3zM758 176h3v4h-3zM762 175h3v3h-3zM786 224h3v14h-3zM790 178h3v47h-3zM798 186h3v9h-3zM802 156h3v32h-3zM810 174h3v2h-3zM814 113h3v63h-3zM830 211h3v21h-3zM834 207h3v10h-3zM842 187h3v24h-3zM850 189h3v10h-3zM858 220h3v10h-3zM862 209h3v11h-3zM866 183h3v27h-3zM870 138h3v48h-3zM874 87h3v52h-3zM882 86h3v5h-3zM898 164h3v10h-3zM902 127h3v37h-3z" fill="#ff0000"/>
<path d="M527.5 114V151M779.5 180V217" stroke="#000" stroke-width="1" fill="none"/>
<path d="M526 141h3v1h-3zM778 212h3v1h-3z" fill="#000"/>
<path d="M7.5 283V329M15.5 327V329M31.5 328V342M39.5 316V332M43.5 311V313M55.5 324V332M59.5 287V323M87.5 320V351M95.5 317V325M103.5 249V321M107.5 184V248M111.5 155V183M143.5 170V189M147.5 161V169M151.5 131V160M155.5 125V129M167.5 151V153M171.5 133V150M175.5 126V131M191.5 203V209M195.5 175V203M203.5 183V203M207.5 171V181M219.5 159V176M227.5 174V183M231.5 166V172M255.5 266V269M271.5 264V283M279.5 203V263M287.5 161V197M291.5 146V160M299.5 145V155M315.5 204V219M319.5 185V203M323.5 175V183M339.5 217V221M343.5 213V215M347.5 182V212M355.5 229V230M359.5 188V228M383.5 204V211M387.5 171V203M391.5 154V169M399.5 183V191M403.5 180V181M407.5 151V180M419.5 114V167M423.5 78V113M439.5 121V141M447.5 131V132M455.5 127V133M459.5 101V125M463.5 64V100M483.5 107V129M491.5 106V110M499.5 111V113M507.5 91V111M515.5 136V137M523.5 142V144M547.5 192V195M551.5 168V191M567.5 201V226M571.5 194V198M579.5 204V243M587.5 221V230M599.5 215V222M607.5 182V232M611.5 159V181M623.5 129V159M627.5 93V129M639.5 106V125M643.5 100V104M647.5 76V100M651.5 71V74M655.5 66V69M659.5 57V65M667.5 136V146M679.5 163V170M691.5 178V187M695.5 128V177M707.5 141V165M715.5 157V164M719.5 150V156M723.5 137V148M727.5 135V136M735.5 141V173M747.5 146V153M759.5 177V179M763.5 176V177M787.5 225V237M791.5 179V224M799.5 187V194M803.5 157V187M815.5 114V175M831.5 212V231M835.5 208V216M843.5 188V210M851.5 190V198M859.5 221V229M863.5 210V219M867.5 184V209M871.5 139V185M875.5 88V138M883.5 87V90M899.5 165V173M903.5 128V163" stroke="#ff4500" stroke-width="1" fill="none"/>
</g>
<rect x="1151" y="87" width="39" height="11" fill="#ff0000"/>
<rect x="1151" y="127" width="39" height="11" fill="#000"/>
<rect x="1151" y="159" width="39" height="11" fill="#00ff00"/>
<rect x="1151" y="231" width="39" height="11" fill="#0000ff"/>
<rect x="1151" y="299" width="39" height="11" fill="#0000ff"/>
<clipPath id="c2"><rect x="3" y="376" width="1146" height="63"/></clipPath><g clip-path="url(#c2)">
<path d="M2 409h3V437h-3zM6 409h3V437h-3zM10 409h3V437h-3zM14 409h3V437h-3zM18 409h3V437h-3zM22 409h3V437h-3zM26 409h3V437h-3zM30 409h3V437h-3zM34 409h3V437h-3zM38 409h3V434h-3zM42 409h3V432h-3zM46 409h3V431h-3zM50 409h3V431h-3zM54 409h3V429h-3zM58 409h3V425h-3zM62 409h3V425h-3zM66 409h3V424h-3zM70 409h3V423h-3zM74 409h3V423h-3zM78 409h3V423h-3zM82 409h3V424h-3zM86 409h3V423h-3zM90 409h3V422h-3zM94 409h3V421h-3zM98 409h3V419h-3zM102 409h3V415h-3zM106 405h3V409h-3zM110 397h3V409h-3zM114 391h3V409h-3zM118 388h3V409h-3zM122 385h3V409h-3zM126 384h3V409h-3zM130 383h3V409h-3zM134 383h3V409h-3zM138 384h3V409h-3zM142 383h3V409h-3zM146 382h3V409h-3zM150 380h3V409h-3zM154 379h3V409h-3zM158 380h3V409h-3zM162 381h3V409h-3zM166 382h3V409h-3zM170 382h3V409h-3zM174 382h3V409h-3zM178 387h3V409h-3zM182 391h3V409h-3zM186 395h3V409h-3zM190 397h3V409h-3zM194 398h3V409h-3zM198 400h3V409h-3zM202 401h3V409h-3zM206 400h3V409h-3zM210 401h3V409h-3zM214 401h3V409h-3zM218 400h3V409h-3zM222 401h3V409h-3zM226 402h3V409h-3zM230 402h3V409h-3zM234 402h3V409h-3zM238 404h3V409h-3zM242 406h3V409h-3zM246 409h3V411h-3zM250 409h3V415h-3zM254 409h3V419h-3zM258 409h3V421h-3zM262 409h3V424h-3zM266 409h3V426h-3zM270 409h3V426h-3zM274 409h3V426h-3zM278 409h3V422h-3zM282 409h3V419h-3zM286 409h3V414h-3zM290 408h3V409h-3zM294 405h3V409h-3zM298 402h3V409h-3zM302 403h3V409h-3zM306 404h3V409h-3zM310 406h3V409h-3zM314 406h3V409h-3zM318 406h3V409h-3zM322 404h3V409h-3zM326 404h3V409h-3zM330 404h3V409h-3zM334 406h3V409h-3zM338 408h3V409h-3zM342 409h3V410h-3zM346 408h3V409h-3zM350 409h3V410h-3zM354 409h3V412h-3zM358 409h3V411h-3zM362 409h3V410h-3zM366 409h3V410h-3zM370 409h3V410h-3zM374 409h3V411h-3zM378 409h3V411h-3zM382 409h3V411h-3zM386 408h3V409h-3zM390 405h3V409h-3zM394 405h3V409h-3zM398 405h3V409h-3zM402 405h3V409h-3zM406 403h3V409h-3zM410 402h3V409h-3zM414 402h3V409h-3zM418 398h3V409h-3zM422 394h3V409h-3zM426 390h3V409h-3zM430 390h3V409h-3zM434 392h3V409h-3zM438 392h3V409h-3zM442 393h3V409h-3zM446 394h3V409h-3zM450 395h3V409h-3zM454 395h3V409h-3zM458 394h3V409h-3zM462 391h3V409h-3zM466 390h3V409h-3zM470 391h3V409h-3zM474 391h3V409h-3zM478 394h3V409h-3zM482 395h3V409h-3zM486 396h3V409h-3zM490 397h3V409h-3zM494 398h3V409h-3zM498 399h3V409h-3zM502 400h3V409h-3zM506 399h3V409h-3zM510 402h3V409h-3zM514 404h3V409h-3zM518 406h3V409h-3zM522 407h3V409h-3zM526 408h3V409h-3zM530 409h3V411h-3zM534 409h3V413h-3zM538 409h3V416h-3zM542 409h3V418h-3zM546 409h3V420h-3zM550 409h3V420h-3zM554 409h3V420h-3zM558 409h3V420h-3zM562 409h3V423h-3zM566 409h3V424h-3zM570 409h3V424h-3zM574 409h3V427h-3zM578 409h3V426h-3zM582 409h3V427h-3zM586 409h3V427h-3zM590 409h3V427h-3zM594 409h3V427h-3zM598 409h3V426h-3zM602 409h3V427h-3zM606 409h3V423h-3zM610 409h3V420h-3zM614 409h3V417h-3zM618 409h3V414h-3zM622 409h3V410h-3zM626 404h3V409h-3zM630 401h3V409h-3zM634 399h3V409h-3zM638 397h3V409h-3zM642 395h3V409h-3zM646 393h3V409h-3zM650 390h3V409h-3zM654 389h3V409h-3zM658 387h3V409h-3zM662 392h3V409h-3zM666 394h3V409h-3zM670 397h3V409h-3zM674 401h3V409h-3zM678 404h3V409h-3zM682 407h3V409h-3zM686 409h3V411h-3zM690 409h3V412h-3zM694 409h3V411h-3zM698 409h3V410h-3zM702 409h3V411h-3zM706 409h3V411h-3zM710 409h3V412h-3zM714 409h3V412h-3zM718 409h3V412h-3zM722 409h3V411h-3zM726 409h3V410h-3zM730 409h3V412h-3zM734 409h3V411h-3zM738 409h3V410h-3zM742 409h3V411h-3zM746 409h3V411h-3zM750 409h3V412h-3zM754 409h3V413h-3zM758 409h3V414h-3zM762 409h3V415h-3zM766 409h3V416h-3zM770 409h3V417h-3zM774 409h3V419h-3zM778 409h3V421h-3zM782 409h3V423h-3zM786 409h3V424h-3zM790 409h3V422h-3zM794 409h3V421h-3zM798 409h3V420h-3zM802 409h3V417h-3zM806 409h3V416h-3zM810 409h3V415h-3zM814 409h3V411h-3zM818 408h3V409h-3zM822 409h3V411h-3zM826 409h3V415h-3zM830 409h3V416h-3zM834 409h3V417h-3zM838 409h3V418h-3zM842 409h3V417h-3zM846 409h3V416h-3zM850 409h3V416h-3zM854 409h3V417h-3zM858 409h3V418h-3zM862 409h3V418h-3zM866 409h3V416h-3zM870 409h3V412h-3zM874 405h3V409h-3zM878 400h3V409h-3zM882 396h3V409h-3zM886 395h3V409h-3zM890 397h3V409h-3zM894 400h3V409h-3zM898 401h3V409h-3zM902 400h3V409h-3zM906 400h3V409h-3zM910 400h3V409h-3z" fill="#c0c0c0"/>
<path d="M250 405h3v1h-3zM321 405h4v1h-4zM333 405h8v1h-8zM413 405h4v1h-4zM533 405h3v1h-3zM698 405h2v1h-2zM892 405h2v1h-2zM217 399h4v1h-4zM429 399h3v1h-3zM513 399h4v1h-4zM688 399h2v1h-2zM906 399h5v1h-5zM49 433h4v1h-4zM148 384h2v1h-2zM185 384h3v1h-3zM314 407h3v1h-3zM349 407h8v1h-8zM405 407h4v1h-4zM538 407h2v1h-2zM641 407h2v1h-2zM702 407h3v1h-3zM888 407h2v1h-2zM260 410h2v1h-2zM308 410h2v1h-2zM377 410h12v1h-12zM544 410h2v1h-2zM637 410h2v1h-2zM713 410h44v1h-44zM882 410h2v1h-2zM221 400h4v1h-4zM426 400h3v1h-3zM517 400h4v1h-4zM690 400h2v1h-2zM904 400h2v1h-2zM113 413h2v1h-2zM266 413h2v1h-2zM550 413h3v1h-3zM633 413h2v1h-2zM773 413h4v1h-4zM829 413h20v1h-20zM876 413h2v1h-2zM3 436h10v1h-10zM72 426h2v1h-2zM601 426h8v1h-8zM253 406h3v1h-3zM317 406h4v1h-4zM341 406h8v1h-8zM409 406h4v1h-4zM536 406h2v1h-2zM700 406h2v1h-2zM890 406h2v1h-2zM301 414h2v1h-2zM553 414h4v1h-4zM777 414h3v1h-3zM825 414h4v1h-4zM849 414h4v1h-4zM873 414h3v1h-3zM13 435h28v1h-28zM441 395h4v1h-4zM500 395h2v1h-2zM658 395h3v1h-3zM680 395h2v1h-2zM225 401h16v1h-16zM424 401h2v1h-2zM521 401h3v1h-3zM649 401h2v1h-2zM901 401h3v1h-3zM245 403h3v1h-3zM420 403h2v1h-2zM526 403h3v1h-3zM896 403h2v1h-2zM204 393h2v1h-2zM449 393h44v1h-44zM665 393h12v1h-12zM109 416h2v1h-2zM298 416h2v1h-2zM560 416h2v1h-2zM629 416h2v1h-2zM782 416h3v1h-3zM818 416h3v1h-3zM857 416h12v1h-12zM310 409h2v1h-2zM365 409h12v1h-12zM389 409h8v1h-8zM542 409h2v1h-2zM709 409h4v1h-4zM884 409h2v1h-2zM77 424h8v1h-8zM589 424h4v1h-4zM613 424h3v1h-3zM62 429h3v1h-3zM102 419h3v1h-3zM276 419h2v1h-2zM292 419h2v1h-2zM568 419h2v1h-2zM624 419h2v1h-2zM793 419h20v1h-20zM89 422h8v1h-8zM577 422h4v1h-4zM618 422h2v1h-2zM257 408h2v1h-2zM312 408h2v1h-2zM357 408h8v1h-8zM397 408h8v1h-8zM540 408h2v1h-2zM705 408h4v1h-4zM886 408h2v1h-2zM262 411h2v1h-2zM306 411h2v1h-2zM546 411h2v1h-2zM757 411h8v1h-8zM880 411h2v1h-2zM69 427h3v1h-3zM41 434h8v1h-8zM248 404h2v1h-2zM325 404h8v1h-8zM417 404h3v1h-3zM529 404h4v1h-4zM645 404h2v1h-2zM696 404h2v1h-2zM894 404h2v1h-2zM206 394h2v1h-2zM445 394h4v1h-4zM493 394h7v1h-7zM661 394h4v1h-4zM677 394h3v1h-3zM209 396h2v1h-2zM437 396h4v1h-4zM502 396h6v1h-6zM656 396h2v1h-2zM682 396h2v1h-2zM264 412h2v1h-2zM304 412h2v1h-2zM548 412h2v1h-2zM765 412h8v1h-8zM878 412h2v1h-2zM105 418h3v1h-3zM274 418h2v1h-2zM294 418h2v1h-2zM565 418h3v1h-3zM626 418h2v1h-2zM789 418h4v1h-4zM813 418h3v1h-3zM150 383h7v1h-7zM181 383h4v1h-4zM269 415h2v1h-2zM557 415h3v1h-3zM780 415h2v1h-2zM821 415h4v1h-4zM853 415h4v1h-4zM869 415h4v1h-4zM241 402h4v1h-4zM422 402h2v1h-2zM524 402h2v1h-2zM693 402h2v1h-2zM898 402h3v1h-3zM213 398h4v1h-4zM432 398h2v1h-2zM510 398h3v1h-3zM653 398h2v1h-2zM686 398h2v1h-2zM97 421h3v1h-3zM281 421h8v1h-8zM573 421h4v1h-4zM620 421h2v1h-2zM57 431h3v1h-3zM173 381h4v1h-4zM211 397h2v1h-2zM434 397h3v1h-3zM508 397h2v1h-2zM684 397h2v1h-2zM272 417h2v1h-2zM296 417h2v1h-2zM562 417h3v1h-3zM785 417h4v1h-4zM816 417h2v1h-2zM140 387h2v1h-2zM192 387h2v1h-2zM100 420h2v1h-2zM278 420h3v1h-3zM289 420h3v1h-3zM570 420h3v1h-3zM622 420h2v1h-2zM157 382h16v1h-16zM177 382h4v1h-4zM145 385h3v1h-3zM188 385h2v1h-2zM53 432h4v1h-4zM74 425h3v1h-3zM593 425h8v1h-8zM609 425h4v1h-4zM85 423h4v1h-4zM581 423h8v1h-8zM616 423h2v1h-2zM65 428h4v1h-4zM202 392h2v1h-2zM196 389h2v1h-2zM198 390h2v1h-2zM142 386h3v1h-3zM190 386h2v1h-2zM200 391h2v1h-2zM194 388h2v1h-2zM60 430h2v1h-2zM122 405h1v1h-1zM644 405h1v1h-1zM128 399h1v1h-1zM652 399h1v1h-1zM120 407h1v1h-1zM256 407h1v1h-1zM117 410h1v1h-1zM127 400h1v1h-1zM651 400h1v1h-1zM303 413h1v1h-1zM121 406h1v1h-1zM643 406h1v1h-1zM112 414h1v1h-1zM268 414h1v1h-1zM632 414h1v1h-1zM132 395h1v1h-1zM208 395h1v1h-1zM126 401h1v1h-1zM692 401h1v1h-1zM124 403h1v1h-1zM647 403h1v1h-1zM695 403h1v1h-1zM134 393h1v1h-1zM271 416h1v1h-1zM118 409h1v1h-1zM259 409h1v1h-1zM639 409h1v1h-1zM119 408h1v1h-1zM640 408h1v1h-1zM116 411h1v1h-1zM636 411h1v1h-1zM123 404h1v1h-1zM133 394h1v1h-1zM131 396h1v1h-1zM115 412h1v1h-1zM635 412h1v1h-1zM111 415h1v1h-1zM300 415h1v1h-1zM631 415h1v1h-1zM125 402h1v1h-1zM648 402h1v1h-1zM129 398h1v1h-1zM130 397h1v1h-1zM655 397h1v1h-1zM108 417h1v1h-1zM628 417h1v1h-1zM135 392h1v1h-1zM138 389h1v1h-1zM137 390h1v1h-1zM136 391h1v1h-1zM139 388h1v1h-1z" fill="#ff0000"/>
</g>
<clipPath id="c3"><rect x="3" y="442" width="1146" height="65"/></clipPath><g clip-path="url(#c3)">
<path d="M37 480h2v1h-2zM45 480h4v1h-4zM53 480h3v1h-3zM73 480h4v1h-4zM557 480h3v1h-3zM569 480h3v1h-3zM580 480h2v1h-2zM585 480h8v1h-8zM596 480h2v1h-2zM600 480h2v1h-2zM686 480h3v1h-3zM766 480h6v1h-6zM824 480h2v1h-2zM49 481h4v1h-4zM77 481h4v1h-4zM567 481h2v1h-2zM582 481h3v1h-3zM593 481h3v1h-3zM602 481h2v1h-2zM826 481h2v1h-2zM138 467h2v1h-2zM161 467h4v1h-4zM287 467h2v1h-2zM292 467h2v1h-2zM296 467h2v1h-2zM630 467h2v1h-2zM641 467h3v1h-3zM193 473h2v1h-2zM203 473h2v1h-2zM209 473h4v1h-4zM225 473h4v1h-4zM317 473h2v1h-2zM326 473h6v1h-6zM359 473h2v1h-2zM397 473h4v1h-4zM480 473h2v1h-2zM492 473h2v1h-2zM496 473h2v1h-2zM501 473h3v1h-3zM695 473h5v1h-5zM722 473h6v1h-6zM136 466h2v1h-2zM140 466h2v1h-2zM165 466h4v1h-4zM289 466h3v1h-3zM298 466h2v1h-2zM465 466h2v1h-2zM625 466h2v1h-2zM628 466h2v1h-2zM644 466h2v1h-2zM11 483h14v1h-14zM28 483h2v1h-2zM540 483h2v1h-2zM545 483h3v1h-3zM775 483h5v1h-5zM251 485h2v1h-2zM261 485h4v1h-4zM782 485h3v1h-3zM205 472h4v1h-4zM213 472h3v1h-3zM229 472h7v1h-7zM279 472h5v1h-5zM319 472h2v1h-2zM324 472h2v1h-2zM401 472h3v1h-3zM413 472h3v1h-3zM442 472h3v1h-3zM449 472h4v1h-4zM482 472h10v1h-10zM498 472h3v1h-3zM609 472h2v1h-2zM613 472h4v1h-4zM909 472h2v1h-2zM63 478h6v1h-6zM89 478h3v1h-3zM241 478h3v1h-3zM335 478h2v1h-2zM351 478h5v1h-5zM518 478h3v1h-3zM529 478h3v1h-3zM551 478h2v1h-2zM674 478h3v1h-3zM681 478h3v1h-3zM751 478h2v1h-2zM757 478h7v1h-7zM831 478h9v1h-9zM860 478h2v1h-2zM201 474h2v1h-2zM223 474h2v1h-2zM361 474h8v1h-8zM395 474h2v1h-2zM494 474h2v1h-2zM720 474h2v1h-2zM735 474h5v1h-5zM746 474h2v1h-2zM805 474h2v1h-2zM809 474h3v1h-3zM87 477h2v1h-2zM92 477h2v1h-2zM97 477h3v1h-3zM239 477h2v1h-2zM310 477h2v1h-2zM337 477h4v1h-4zM374 477h3v1h-3zM511 477h2v1h-2zM516 477h2v1h-2zM521 477h8v1h-8zM672 477h2v1h-2zM677 477h4v1h-4zM793 477h2v1h-2zM796 477h2v1h-2zM846 477h2v1h-2zM862 477h2v1h-2zM39 479h6v1h-6zM69 479h4v1h-4zM553 479h4v1h-4zM598 479h2v1h-2zM684 479h2v1h-2zM689 479h3v1h-3zM753 479h4v1h-4zM764 479h2v1h-2zM829 479h2v1h-2zM855 479h5v1h-5zM218 470h2v1h-2zM405 470h2v1h-2zM408 470h2v1h-2zM438 470h2v1h-2zM473 470h3v1h-3zM119 464h6v1h-6zM145 464h3v1h-3zM173 464h3v1h-3zM421 464h2v1h-2zM649 464h8v1h-8zM30 482h6v1h-6zM81 482h3v1h-3zM271 482h5v1h-5zM535 482h5v1h-5zM773 482h2v1h-2zM388 469h2v1h-2zM457 469h2v1h-2zM470 469h3v1h-3zM621 469h2v1h-2zM633 469h2v1h-2zM636 469h2v1h-2zM189 475h3v1h-3zM303 475h5v1h-5zM314 475h2v1h-2zM369 475h3v1h-3zM381 475h3v1h-3zM666 475h3v1h-3zM705 475h2v1h-2zM708 475h2v1h-2zM717 475h3v1h-3zM740 475h2v1h-2zM744 475h2v1h-2zM807 475h2v1h-2zM850 475h2v1h-2zM865 475h2v1h-2zM892 475h2v1h-2zM897 475h3v1h-3zM94 476h3v1h-3zM179 476h10v1h-10zM308 476h2v1h-2zM312 476h2v1h-2zM341 476h3v1h-3zM372 476h2v1h-2zM377 476h4v1h-4zM513 476h3v1h-3zM663 476h3v1h-3zM669 476h3v1h-3zM710 476h7v1h-7zM742 476h2v1h-2zM791 476h2v1h-2zM798 476h2v1h-2zM841 476h2v1h-2zM844 476h2v1h-2zM848 476h2v1h-2zM894 476h3v1h-3zM125 465h11v1h-11zM142 465h3v1h-3zM169 465h4v1h-4zM646 465h3v1h-3zM875 465h9v1h-9zM159 468h2v1h-2zM294 468h2v1h-2zM390 468h2v1h-2zM468 468h2v1h-2zM638 468h3v1h-3zM216 471h2v1h-2zM321 471h3v1h-3zM410 471h3v1h-3zM436 471h2v1h-2zM440 471h2v1h-2zM445 471h4v1h-4zM453 471h3v1h-3zM505 471h2v1h-2zM611 471h2v1h-2zM617 471h3v1h-3zM903 471h6v1h-6zM110 460h6v1h-6zM25 484h3v1h-3zM249 484h2v1h-2zM253 484h8v1h-8zM542 484h3v1h-3zM780 484h2v1h-2zM785 484h3v1h-3zM265 486h3v1h-3zM423 463h5v1h-5zM657 463h3v1h-3zM108 461h2v1h-2zM151 461h5v1h-5zM149 462h2v1h-2zM6 480h1v2h-1zM8 480h1v1h-1zM85 479h1v2h-1zM245 480h1v1h-1zM276 479h1v2h-1zM533 480h1v1h-1zM549 480h1v2h-1zM578 480h1v2h-1zM604 479h1v2h-1zM789 479h1v2h-1zM828 480h1v1h-1zM9 481h1v1h-1zM36 481h1v1h-1zM84 481h1v1h-1zM246 481h1v1h-1zM275 481h1v1h-1zM534 481h1v1h-1zM560 481h1v2h-1zM572 481h1v1h-1zM772 481h1v1h-1zM788 481h1v2h-1zM103 467h1v2h-1zM158 466h1v2h-1zM176 466h1v3h-1zM299 467h1v1h-1zM418 467h1v2h-1zM430 467h1v1h-1zM460 467h1v1h-1zM467 467h1v1h-1zM624 467h1v1h-1zM660 465h1v4h-1zM815 467h1v1h-1zM873 467h1v1h-1zM885 467h1v1h-1zM101 471h1v3h-1zM178 472h1v3h-1zM196 473h1v1h-1zM222 473h1v1h-1zM236 473h1v1h-1zM279 473h1v1h-1zM302 472h1v2h-1zM346 473h1v1h-1zM348 473h1v2h-1zM385 472h1v2h-1zM394 472h1v2h-1zM478 473h1v1h-1zM509 473h1v2h-1zM608 473h1v1h-1zM662 472h1v4h-1zM802 473h1v1h-1zM804 473h1v1h-1zM812 472h1v2h-1zM820 473h1v1h-1zM868 473h1v1h-1zM890 473h1v1h-1zM901 473h1v1h-1zM104 466h1v1h-1zM419 466h1v1h-1zM429 465h1v2h-1zM461 466h1v1h-1zM874 466h1v1h-1zM884 466h1v1h-1zM5 482h1v2h-1zM248 483h1v1h-1zM270 483h1v1h-1zM561 483h1v1h-1zM565 483h1v2h-1zM573 482h1v2h-1zM576 483h1v2h-1zM787 483h1v1h-1zM4 484h1v2h-1zM268 485h1v1h-1zM562 484h1v2h-1zM564 485h1v1h-1zM575 485h1v1h-1zM195 472h1v1h-1zM221 472h1v1h-1zM347 472h1v1h-1zM435 472h1v1h-1zM477 472h1v1h-1zM504 472h1v1h-1zM508 471h1v2h-1zM803 472h1v1h-1zM819 471h1v2h-1zM869 471h1v2h-1zM889 471h1v2h-1zM902 472h1v1h-1zM56 478h1v2h-1zM86 478h1v1h-1zM277 476h1v3h-1zM605 477h1v2h-1zM692 477h1v2h-1zM731 478h1v1h-1zM790 477h1v2h-1zM795 478h1v1h-1zM823 478h1v2h-1zM854 478h1v1h-1zM59 474h1v1h-1zM100 474h1v2h-1zM192 474h1v1h-1zM197 474h1v1h-1zM237 474h1v2h-1zM278 474h1v2h-1zM303 474h1v1h-1zM316 474h1v1h-1zM332 474h1v1h-1zM345 474h1v1h-1zM358 474h1v1h-1zM384 474h1v1h-1zM479 474h1v1h-1zM607 474h1v1h-1zM694 474h1v2h-1zM700 474h1v1h-1zM707 474h1v1h-1zM728 474h1v1h-1zM801 474h1v1h-1zM821 474h1v3h-1zM867 474h1v1h-1zM891 474h1v1h-1zM900 474h1v1h-1zM57 477h1v1h-1zM62 477h1v1h-1zM334 477h1v1h-1zM350 476h1v2h-1zM356 477h1v1h-1zM663 477h1v1h-1zM703 477h1v1h-1zM730 477h1v1h-1zM732 477h1v1h-1zM750 477h1v1h-1zM822 477h1v1h-1zM840 477h1v1h-1zM853 477h1v1h-1zM7 479h1v1h-1zM244 479h1v1h-1zM532 479h1v1h-1zM550 479h1v1h-1zM579 479h1v1h-1zM102 469h1v2h-1zM177 469h1v3h-1zM285 469h1v2h-1zM301 470h1v2h-1zM387 470h1v1h-1zM392 469h1v2h-1zM416 470h1v2h-1zM433 470h1v1h-1zM456 470h1v1h-1zM507 470h1v1h-1zM620 470h1v1h-1zM635 470h1v1h-1zM661 469h1v3h-1zM813 470h1v2h-1zM818 470h1v1h-1zM870 470h1v1h-1zM888 470h1v1h-1zM105 464h1v2h-1zM157 464h1v2h-1zM428 464h1v1h-1zM463 464h1v1h-1zM659 464h1v1h-1zM10 482h1v1h-1zM247 482h1v1h-1zM548 482h1v1h-1zM566 482h1v1h-1zM577 482h1v1h-1zM300 468h1v2h-1zM407 469h1v1h-1zM417 469h1v1h-1zM432 469h1v1h-1zM814 468h1v2h-1zM817 469h1v1h-1zM871 469h1v1h-1zM887 469h1v1h-1zM58 475h1v2h-1zM60 475h1v1h-1zM179 475h1v1h-1zM198 475h1v1h-1zM200 475h1v1h-1zM333 475h1v2h-1zM344 475h1v1h-1zM349 475h1v1h-1zM357 475h1v2h-1zM510 475h1v2h-1zM606 475h1v2h-1zM701 475h1v1h-1zM729 475h1v2h-1zM734 475h1v1h-1zM748 475h1v1h-1zM791 475h1v1h-1zM800 475h1v1h-1zM843 475h1v1h-1zM61 476h1v1h-1zM99 476h1v1h-1zM199 476h1v1h-1zM238 476h1v1h-1zM693 476h1v1h-1zM702 476h1v1h-1zM704 476h1v1h-1zM733 476h1v1h-1zM749 476h1v1h-1zM852 476h1v1h-1zM864 476h1v1h-1zM175 465h1v1h-1zM420 465h1v1h-1zM462 465h1v1h-1zM464 465h1v1h-1zM627 465h1v1h-1zM286 468h1v1h-1zM431 468h1v1h-1zM459 468h1v1h-1zM623 468h1v1h-1zM632 468h1v1h-1zM816 468h1v1h-1zM872 468h1v1h-1zM886 468h1v1h-1zM220 471h1v1h-1zM284 471h1v1h-1zM386 471h1v1h-1zM393 471h1v1h-1zM404 471h1v1h-1zM434 471h1v1h-1zM476 471h1v1h-1zM269 484h1v1h-1zM574 484h1v1h-1zM3 486h1v1h-1zM563 486h1v1h-1zM106 463h1v1h-1zM118 463h1v1h-1zM148 463h1v1h-1zM156 462h1v2h-1zM116 461h1v1h-1zM107 462h1v1h-1zM117 462h1v1h-1z" fill="#1e90ff"/>
</g>
<rect x="5" y="43" width="222" height="57" fill="#fff"/>
<rect x="6" y="43" width="52" height="25" fill="url(#rg2)"/>
<defs><linearGradient id="rg2" gradientUnits="userSpaceOnUse" x1="0" y1="43" x2="0" y2="100"><stop offset="0" stop-color="#f74d4d"/><stop offset="0.4" stop-color="#dd2e2e"/><stop offset="1" stop-color="#b00707"/></linearGradient></defs>
<rect x="6" y="43" width="52" height="57" fill="url(#rg2)"/>
<rect x="173" y="43" width="52" height="57" fill="url(#rg2)"/>
<rect x="6" y="67" width="109" height="33" fill="url(#rg2)"/>
<rect x="117" y="67" width="108" height="33" fill="url(#rg2)"/>
<path d="M6.5 43.5H57.5V67.5H114.5V99.5H6.5zM173.5 43.5H224.5V99.5H117.5V67.5H173.5z" fill="none" stroke="#b91515" stroke-opacity="0.85"/>
<rect x="10" y="66" width="44" height="1" fill="#b71414"/><rect x="10" y="67" width="44" height="1" fill="#f07a7a"/>
<rect x="178" y="66" width="44" height="1" fill="#b71414"/><rect x="178" y="67" width="44" height="1" fill="#f07a7a"/>
<rect x="60.5" y="43.5" width="110" height="21" fill="#fff" stroke="#a3a7ad"/>
<rect x="62" y="45" width="18" height="18" fill="url(#bt)"/><rect x="81" y="44" width="1" height="20" fill="#a9adb3"/>
<rect x="151" y="45" width="18" height="18" fill="url(#bt)"/><rect x="149" y="44" width="1" height="20" fill="#a9adb3"/>
<path d="M67.7 52h5.6l-2.8 3.2z" fill="#4057c4" shape-rendering="auto"/><path d="M157 55h5.6l-2.8 -3.2z" fill="#4057c4" shape-rendering="auto"/>
<path d="M6 34.5l4 -5l4 5z" fill="#000" shape-rendering="auto"/>
</svg>
<div class="tb" style="left:-2px">5</div>
<div class="tb" style="left:15px">M30</div>
<div class="tb" style="left:46px">H1</div>
<div class="tb" style="left:73px">H4</div>
<div class="tb" style="left:102px">D1</div>
<div class="tb" style="left:129px">W1</div>
<div class="tb" style="left:156px">MN</div>
<div class="t" style="left:18.5px;top:27px">USDCHF-,Daily&nbsp; 0.92513 0.92531 0.92461 0.92470</div>
<div class="t" style="left:7px;top:380px">MACD(12,26,9) 0.001762 0.001919</div>
<div class="t" style="left:7px;top:446px">RSI(14) 54.9163</div>
<div class="ax" style="top:35px"><span>0.93740</span></div>
<div class="ax" style="top:68px"><span>0.93290</span></div>
<div class="ax" style="top:101px"><span>0.92830</span></div>
<div class="ax" style="top:134px"><span>0.92370</span></div>
<div class="ax" style="top:167px"><span>0.91920</span></div>
<div class="ax" style="top:200px"><span>0.91460</span></div>
<div class="ax" style="top:266px"><span>0.90540</span></div>
<div class="ax" style="top:332px"><span>0.89630</span></div>
<div class="ax" style="top:365px"><span>0.89170</span></div>
<div class="ax box" style="top:87px"><span>0.93006</span></div>
<div class="ax box" style="top:127px"><span>0.92470</span></div>
<div class="ax box" style="top:159px"><span>0.92017</span></div>
<div class="ax box" style="top:231px"><span>0.91018</span></div>
<div class="ax box" style="top:299px"><span>0.90079</span></div>
<div class="ax" style="top:376.5px;left:1153px"><span>0.006045</span></div>
<div class="ax" style="top:404px;left:1153px"><span>0.00</span></div>
<div class="ax" style="top:427px;left:1153px"><span>-0.005383</span></div>
<div class="ax" style="top:443px;left:1153px"><span>100</span></div>
<div class="ax" style="top:457px;left:1153px"><span>70</span></div>
<div class="ax" style="top:482px;left:1153px"><span>30</span></div>
<div class="ax" style="top:495px;left:1153px"><span>0</span></div>
<div class="t" style="left:2px;top:512px;transform:scaleX(0.93)">18 May 2021</div>
<div class="t" style="left:66px;top:512px;transform:scaleX(0.93)">6 Jun 2021</div>
<div class="t" style="left:130px;top:512px;transform:scaleX(0.93)">24 Jun 2021</div>
<div class="t" style="left:194px;top:512px;transform:scaleX(0.93)">13 Jul 2021</div>
<div class="t" style="left:258px;top:512px;transform:scaleX(0.93)">1 Aug 2021</div>
<div class="t" style="left:322px;top:512px;transform:scaleX(0.93)">19 Aug 2021</div>
<div class="t" style="left:386px;top:512px;transform:scaleX(0.93)">7 Sep 2021</div>
<div class="t" style="left:450px;top:512px;transform:scaleX(0.93)">26 Sep 2021</div>
<div class="t" style="left:514px;top:512px;transform:scaleX(0.93)">14 Oct 2021</div>
<div class="t" style="left:578px;top:512px;transform:scaleX(0.93)">2 Nov 2021</div>
<div class="t" style="left:642px;top:512px;transform:scaleX(0.93)">21 Nov 2021</div>
<div class="t" style="left:706px;top:512px;transform:scaleX(0.93)">9 Dec 2021</div>
<div class="t" style="left:770px;top:512px;transform:scaleX(0.93)">28 Dec 2021</div>
<div class="t" style="left:834px;top:512px;transform:scaleX(0.93)">16 Jan 2022</div>
<div class="t" style="left:898px;top:512px;transform:scaleX(0.93)">3 Feb 2022</div>
<div class="tab" style="left:-5.75px">USDX,Weekly</div>
<div class="tab" style="left:97.55000000000001px">EURUSD-,Daily</div>
<div class="tab" style="left:205.3px">AUDUSD-,Daily</div>
<div class="tab" style="left:313.65px;color:#000">USDCHF-,Daily</div>
<div class="tab" style="left:422.05px">USDCAD-,Daily</div>
<div class="tab" style="left:531.95px">USDCNH-,Daily</div>
<div class="tab" style="left:635.8px">XAUUSD-,H1</div>
<div class="tab" style="left:729.6px">UKOil-,Daily</div>
<div class="tab" style="left:819.85px">DJ30-,Daily</div>
<div class="tab" style="left:906.4px">UK100-,H1</div>
<div class="sep" style="left:104px"></div>
<div class="sep" style="left:212px"></div>
<div class="sep" style="left:536px"></div>
<div class="sep" style="left:648px"></div>
<div class="sep" style="left:744px"></div>
<div class="sep" style="left:836px"></div>
<div class="sep" style="left:924px"></div>
<div class="sep" style="left:1008px"></div>
<div class="t" style="left:18px;top:49px;font-size:12.5px;color:#fff;transform:scaleX(0.86)">SELL</div>
<div class="t" style="left:186px;top:49px;font-size:12.5px;color:#fff;transform:scaleX(0.9)">BUY</div>
<div class="t p" style="left:100px;top:47px;width:46px;text-align:right;font-size:13px;color:#111">3.00</div>
<div class="t p" style="left:26px;top:85px;font-size:12px;font-weight:bold;color:#fff">0.92</div>
<div class="t p" style="left:52px;top:66px;font-size:34px;color:#fff;letter-spacing:-1px">47</div>
<div class="t p" style="left:93px;top:69px;font-size:12px;font-weight:bold;color:#fff">0</div>
<div class="t p" style="left:136px;top:85px;font-size:12px;font-weight:bold;color:#fff">0.92</div>
<div class="t p" style="left:163px;top:66px;font-size:34px;color:#fff;letter-spacing:-1px">49</div>
<div class="t p" style="left:204px;top:69px;font-size:12px;font-weight:bold;color:#fff">4</div>
</body></html>
